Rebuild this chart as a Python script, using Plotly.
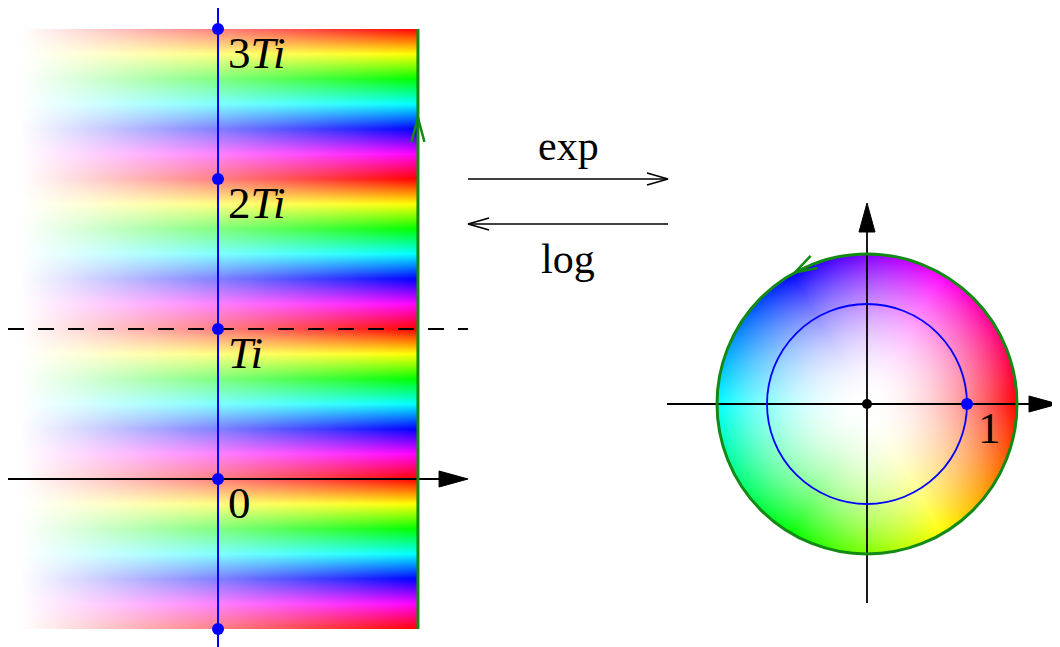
import numpy as np
import plotly.graph_objects as go

# ------------------------------------------------------------------ data
PAGE = 8                      # browser default body margin
W, H = 1060 - PAGE, 647 - PAGE

period_marks = [-1, 0, 1, 2, 3]            # Im (in units of T) of the blue dots
label_marks = [0, 1, 2, 3]
label_texts = ["0", "<i>Ti</i>", "2<i>Ti</i>", "3<i>Ti</i>"]
strip_re = [-1.32, 1.333]                  # coloured strip, real range
strip_im = [-1.0, 3.0]                     # coloured strip, imaginary range
real_axis = [-1.40, 1.667]                 # real axis of the strip plane
imag_line = [-1.12, 3.14]                  # blue imaginary axis
dashed_im = 1.0
edge_arrow_im = 2.407                      # arrow on the green boundary
map_arrow_re = [1.667, 3.0]
map_arrow_im = [2.0, 1.7]
map_names = ["exp", "log"]

disk_radius = 1.5
unit_radius = 1.0
disk_axis_x = [-2.0, 1.91]
disk_axis_y = [-1.99, 2.01]
unit_point = [1.0]
unit_label = ["1"]
circle_arrow_deg = 118.8

BLUE = "#0000ff"
GREEN = "#138a13"
FONT = "Liberation Serif"

# pixel scales / origins of the two coordinate systems (figure pixels)
SL = 150.0   # px per unit, strip plane
SR = 100.0   # px per unit, disk plane
ORIG_L = (218 - PAGE, 479 - PAGE)
ORIG_R = (867 - PAGE, 404 - PAGE)


def hsv_white(hue_deg, sat):
    h6 = (hue_deg % 360.0) / 60.0
    r = np.clip(np.abs(h6 - 3) - 1, 0, 1)
    g = np.clip(2 - np.abs(h6 - 2), 0, 1)
    b = np.clip(2 - np.abs(h6 - 4), 0, 1)
    pure = np.stack([r, g, b], axis=-1)
    rgb = 255 * (1 - sat[..., None] * (1 - pure))
    return np.round(rgb).astype(int)


# strip image
px = 1.0 / SL
nx = int(round((strip_re[1] - strip_re[0]) / px))
ny = int(round((strip_im[1] - strip_im[0]) / px))
re = strip_re[0] + (np.arange(nx) + 0.5) * px
im = strip_im[0] + (np.arange(ny) + 0.5) * px
RE, IM = np.meshgrid(re, im)
sat_s = np.clip((RE - strip_re[0]) / (strip_re[1] - strip_re[0]), 0, 1)
strip_rgb = hsv_white(-360.0 * IM, sat_s)

# disk image
pr = 1.0 / SR
nd = int(round(2 * disk_radius / pr))
xs = -disk_radius + (np.arange(nd) + 0.5) * pr
XD, YD = np.meshgrid(xs, xs)
RD = np.hypot(XD, YD)
TH = np.degrees(np.arctan2(YD, XD))
sat_d = np.where(RD <= disk_radius + 0.5 * pr, np.clip(RD / disk_radius, 0, 1) ** 2, 0.0)
disk_rgb = hsv_white(-TH, sat_d)


def tri_head(tip, d, length, half, scale):
    d = np.array(d, float)
    d /= np.linalg.norm(d)
    p = np.array([-d[1], d[0]])
    tip = np.array(tip, float)
    base = tip - d * length / scale
    a = base + p * half / scale
    b = base - p * half / scale
    return [tip[0], a[0], b[0], tip[0]], [tip[1], a[1], b[1], tip[1]]


def v_head(tip, d, length, half, scale):
    xs_, ys_ = tri_head(tip, d, length, half, scale)
    return [xs_[1], xs_[0], xs_[2]], [ys_[1], ys_[0], ys_[2]]


fig = go.Figure()

fig.add_trace(go.Image(z=strip_rgb.tolist(), x0=re[0], dx=px, y0=im[0], dy=px,
                       xaxis="x", yaxis="y", hoverinfo="skip"))
fig.add_trace(go.Image(z=disk_rgb.tolist(), x0=xs[0], dx=pr, y0=xs[0], dy=pr,
                       xaxis="x2", yaxis="y2", hoverinfo="skip"))


def line(x, y, color, width, ax="", dash=None, fill=None, mode="lines"):
    fig.add_trace(go.Scatter(x=x, y=y, mode=mode,
                             line=dict(color=color, width=width, dash=dash),
                             fill=fill, fillcolor=color if fill else None,
                             xaxis="x" + ax, yaxis="y" + ax,
                             hoverinfo="skip", showlegend=False))


# ---- strip plane
line([real_axis[0], real_axis[1] - 20 / SL], [0, 0], "black", 1.8)
tx, ty = tri_head((real_axis[1], 0), (1, 0), 29, 8, SL)
line(tx, ty, "black", 1, fill="toself")
line(real_axis, [dashed_im, dashed_im], "black", 1.8, dash="16px,14px")
line([0, 0], imag_line, BLUE, 2)
line([strip_re[1]] * 2, strip_im, GREEN, 3)
vx, vy = v_head((strip_re[1], edge_arrow_im), (0, 1), 24, 6.5, SL)
line(vx, vy, GREEN, 2.5)
fig.add_trace(go.Scatter(x=[0] * len(period_marks), y=period_marks, mode="markers",
                         marker=dict(color=BLUE, size=12), hoverinfo="skip",
                         showlegend=False))

# ---- exp / log arrows
for k, (name, yy) in enumerate(zip(map_names, map_arrow_im)):
    line(map_arrow_re, [yy, yy], "black", 1.6)
    tip = (map_arrow_re[1], yy) if k == 0 else (map_arrow_re[0], yy)
    d = (1, 0) if k == 0 else (-1, 0)
    vx, vy = v_head(tip, d, 21, 6, SL)
    line(vx, vy, "black", 1.6)
    fig.add_annotation(x=sum(map_arrow_re) / 2, y=yy, text=name, showarrow=False,
                       xref="x", yref="y", yshift=33 if k == 0 else -35,
                       font=dict(family=FONT, size=42, color="black"))

# ---- disk plane
line([disk_axis_x[0], disk_axis_x[1] - 20 / SR], [0, 0], "black", 1.8, ax="2")
tx, ty = tri_head((disk_axis_x[1], 0), (1, 0), 29, 8, SR)
line(tx, ty, "black", 1, ax="2", fill="toself")
line([0, 0], [disk_axis_y[0], disk_axis_y[1] - 20 / SR], "black", 1.8, ax="2")
tx, ty = tri_head((0, disk_axis_y[1]), (0, 1), 29, 8, SR)
line(tx, ty, "black", 1, ax="2", fill="toself")

fig.add_shape(type="circle", xref="x2", yref="y2", x0=-unit_radius, x1=unit_radius,
              y0=-unit_radius, y1=unit_radius, line=dict(color=BLUE, width=1.8))
fig.add_shape(type="circle", xref="x2", yref="y2", x0=-disk_radius, x1=disk_radius,
              y0=-disk_radius, y1=disk_radius, line=dict(color=GREEN, width=3))

a = np.radians(circle_arrow_deg)
vx, vy = v_head((disk_radius * np.cos(a), disk_radius * np.sin(a)),
                (-np.sin(a), np.cos(a)), 22, 7, SR)
line(vx, vy, GREEN, 2.5, ax="2")

fig.add_trace(go.Scatter(x=[0], y=[0], mode="markers", marker=dict(color="black", size=10),
                         xaxis="x2", yaxis="y2", hoverinfo="skip", showlegend=False))
fig.add_trace(go.Scatter(x=unit_point, y=[0], mode="markers", marker=dict(color=BLUE, size=12),
                         xaxis="x2", yaxis="y2", hoverinfo="skip", showlegend=False))

# ---- labels
for yv, txt in zip(label_marks, label_texts):
    fig.add_annotation(x=0, y=yv, text=txt, showarrow=False, xref="x", yref="y",
                       xanchor="left", yanchor="middle", xshift=8, yshift=-24,
                       font=dict(family=FONT, size=45, color="black"))
fig.add_annotation(x=unit_point[0], y=0, text=unit_label[0], showarrow=False,
                   xref="x2", yref="y2", xanchor="left", yanchor="middle",
                   xshift=9, yshift=-24, font=dict(family=FONT, size=45, color="black"))

ax_common = dict(visible=False, showgrid=False, zeroline=False, fixedrange=True)
fig.update_layout(
    width=W, height=H, margin=dict(l=0, r=0, t=0, b=0),
    paper_bgcolor="white", plot_bgcolor="rgba(0,0,0,0)", showlegend=False,
    xaxis=dict(range=[-ORIG_L[0] / SL, (W - ORIG_L[0]) / SL], domain=[0, 1],
               scaleanchor=False, **ax_common),
    yaxis=dict(range=[-(H - ORIG_L[1]) / SL, ORIG_L[1] / SL], domain=[0, 1], **ax_common),
    xaxis2=dict(range=[-ORIG_R[0] / SR, (W - ORIG_R[0]) / SR], domain=[0, 1],
                overlaying="x", anchor="y2", scaleanchor=False, **ax_common),
    yaxis2=dict(range=[-(H - ORIG_R[1]) / SR, ORIG_R[1] / SR], domain=[0, 1],
                overlaying="y", anchor="x2", **ax_common),
)

fig.write_html("out.html")
